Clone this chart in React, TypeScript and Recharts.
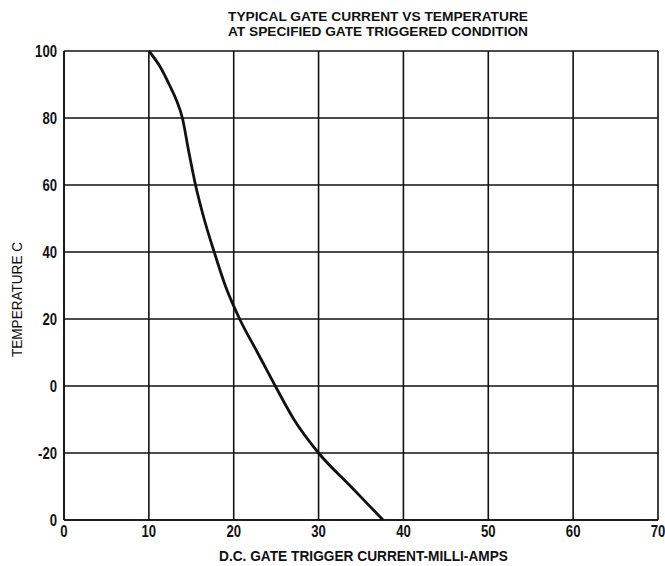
import { LineChart, Line, XAxis, YAxis, CartesianGrid } from "recharts";

// gate trigger current (mA) vs temperature (C)
const currentMa = [10, 11.4, 12.4, 13.3, 13.95, 14.7, 15.5, 16.5, 17.7, 19.0, 20.7, 22.8, 24.9, 27.1, 30.0, 33.8, 37.6];
const temperature = [100, 95, 90, 85, 80, 70, 60, 50, 40, 30, 20, 10, 0, -10, -20, -30, -40];

const xTicks = [0, 10, 20, 30, 40, 50, 60, 70];
const yTicks = [-40, -20, 0, 20, 40, 60, 80, 100];
// the bottom label on the original sheet reads "0"
const yTickLabels = ["0", "-20", "0", "20", "40", "60", "80", "100"];

const titleLines = ["TYPICAL GATE CURRENT VS TEMPERATURE", "AT SPECIFIED GATE TRIGGERED CONDITION"];
const xTitle = "D.C. GATE TRIGGER CURRENT-MILLI-AMPS";
const yTitle = "TEMPERATURE  C";

const data = currentMa.map((c, i) => ({ current: c, temp: temperature[i] }));

const FONT = "'Liberation Sans', Arial, sans-serif";
const INK = "#111";

// narrow the glyphs a bit, the print uses a condensed face
function XTick({ x, y, payload }: any) {
  return (
    <text
      transform={`translate(${x},${y + 9}) scale(0.82,1)`}
      textAnchor="middle"
      fontFamily={FONT}
      fontWeight="bold"
      fontSize={16}
      fill={INK}
    >
      {String(payload.value)}
    </text>
  );
}

function YTick({ x, y, payload }: any) {
  const label = yTickLabels[yTicks.indexOf(payload.value)] ?? String(payload.value);
  return (
    <text
      transform={`translate(${x},${y + 6}) scale(0.82,1)`}
      textAnchor="end"
      fontFamily={FONT}
      fontWeight="bold"
      fontSize={16}
      fill={INK}
    >
      {label}
    </text>
  );
}

export default function App() {
  return (
    <div style={{ position: "absolute", left: 0, top: 0, width: 665, height: 566, background: "#fff" }}>
      <LineChart width={665} height={566} data={data} margin={{ top: 51, right: 7, bottom: 0, left: 0 }}>
        <CartesianGrid stroke={INK} strokeWidth={1.6} />
        <XAxis
          dataKey="current"
          type="number"
          domain={[0, 70]}
          ticks={xTicks}
          interval={0}
          height={46}
          stroke={INK}
          strokeWidth={1.6}
          tickLine={false}
          tick={<XTick />}
        />
        <YAxis
          dataKey="temp"
          type="number"
          domain={[-40, 100]}
          ticks={yTicks}
          interval={0}
          width={64}
          stroke={INK}
          strokeWidth={1.6}
          tickLine={false}
          tickMargin={1}
          tick={<YTick />}
        />
        <Line type="monotone" dataKey="temp" stroke={INK} strokeWidth={2.8} dot={false} isAnimationActive={false} />
      </LineChart>
      <svg width={665} height={566} style={{ position: "absolute", left: 0, top: 0, pointerEvents: "none" }}>
        <g fontFamily={FONT} fontWeight="bold" fill={INK}>
          <text x={228} y={21} fontSize={12.5} textLength={300} lengthAdjust="spacingAndGlyphs">
            {titleLines[0]}
          </text>
          <text x={228} y={36} fontSize={12.5} textLength={300} lengthAdjust="spacingAndGlyphs">
            {titleLines[1]}
          </text>
          <text x={219} y={561} fontSize={15} textLength={289} lengthAdjust="spacingAndGlyphs">
            {xTitle}
          </text>
        </g>
        <text
          transform="translate(22,357) rotate(-90)"
          fontFamily={FONT}
          fontSize={14}
          fill={INK}
          textLength={115}
          lengthAdjust="spacingAndGlyphs"
        >
          {yTitle}
        </text>
      </svg>
    </div>
  );
}
